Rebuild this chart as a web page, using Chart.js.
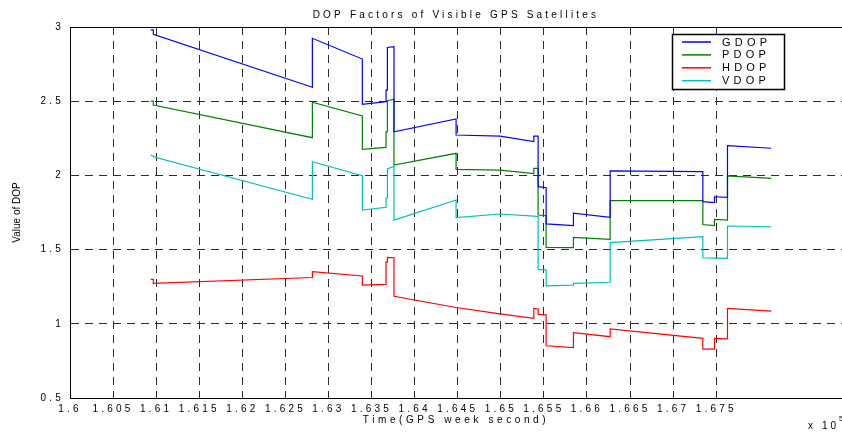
<!DOCTYPE html>
<html>
<head>
<meta charset="utf-8">
<title>DOP Factors of Visible GPS Satellites</title>
<script src="https://cdn.jsdelivr.net/npm/chart.js@4/dist/chart.umd.min.js"></script>
<style>
  html, body { margin: 0; padding: 0; background: #ffffff; }
  canvas { display: block; }
</style>
</head>
<body>
<canvas id="dop" width="842" height="432"></canvas>
<script>
// GPS week seconds at each breakpoint; repeated times mark the jumps
// where the satellite set changes.
const times = [
  160937, 160967, 160967, 162813, 162813, 163393, 163393, 163668, 163668,
  163684, 163684, 163760, 163760, 164481, 164481, 164992, 165383, 165383,
  165433, 165433, 165526, 165526, 165843, 165843, 166269, 166269, 167345,
  167345, 167480, 167480, 167631, 167631, 168140
];

const gdop = [
  2.980, 2.980, 2.951, 2.594, 2.924, 2.784, 2.479, 2.497, 2.575,
  2.575, 2.862, 2.867, 2.294, 2.380, 2.272, 2.265, 2.228, 2.265,
  2.265, 1.924, 1.917, 1.673, 1.661, 1.745, 1.718, 2.030, 2.025,
  1.823, 1.817, 1.856, 1.852, 2.200, 2.183
];

const pdop = [
  2.501, 2.501, 2.474, 2.254, 2.493, 2.400, 2.176, 2.189, 2.294,
  2.294, 2.503, 2.513, 2.070, 2.149, 2.041, 2.035, 2.012, 2.048,
  2.048, 1.733, 1.728, 1.514, 1.513, 1.583, 1.569, 1.830, 1.830,
  1.669, 1.661, 1.704, 1.699, 1.996, 1.980
];

const hdop = [
  1.300, 1.300, 1.273, 1.312, 1.351, 1.322, 1.261, 1.266, 1.416,
  1.416, 1.447, 1.445, 1.185, 1.110, 1.110, 1.067, 1.037, 1.104,
  1.100, 1.063, 1.060, 0.852, 0.839, 0.941, 0.913, 0.965, 0.902,
  0.830, 0.830, 0.902, 0.898, 1.104, 1.086
];

const vdop = [
  2.137, 2.130, 2.125, 1.839, 2.092, 1.998, 1.767, 1.785, 1.846,
  1.846, 2.043, 2.060, 1.699, 1.834, 1.715, 1.740, 1.725, 1.725,
  1.723, 1.367, 1.363, 1.255, 1.261, 1.273, 1.280, 1.547, 1.587,
  1.445, 1.443, 1.443, 1.441, 1.659, 1.654
];

const seriesNames = ['GDOP', 'PDOP', 'HDOP', 'VDOP'];
const seriesColors = ['#0000ff', '#008000', '#ff0000', '#00bfbf'];

const xTickValues = [
  160000, 160500, 161000, 161500, 162000, 162500, 163000, 163500,
  164000, 164500, 165000, 165500, 166000, 166500, 167000, 167500
];
const yTickValues = [0.5, 1, 1.5, 2, 2.5, 3];

const FONT = '"Liberation Sans", Arial, Helvetica, sans-serif';
const SPACING = '3.2px';

function toPoints(values) {
  return times.map((t, i) => ({ x: t, y: values[i] }));
}

const seriesValues = [gdop, pdop, hdop, vdop];
const datasets = seriesNames.map((name, i) => ({
  label: name,
  data: toPoints(seriesValues[i]),
  borderColor: seriesColors[i],
  backgroundColor: seriesColors[i],
  borderWidth: 1.2,
  pointRadius: 0,
  tension: 0,
  fill: false
}));

// Axis frame, in-plot key, letter spacing and the x10^5 multiplier.
const plotDecor = {
  id: 'plotDecor',
  afterLayout(chart) {
    const t = chart.titleBlock;
    const a = chart.chartArea;
    if (t) { t.left = a.left; t.right = a.right; t.width = a.right - a.left; }
  },
  beforeDraw(chart) {
    const ctx = chart.ctx;
    ctx.letterSpacing = SPACING;
    const ys = chart.scales.y;
    if (ys && !ys._plainTitle) {
      const orig = ys.drawTitle;
      ys.drawTitle = function () {
        const prev = this.ctx.letterSpacing;
        this.ctx.letterSpacing = '0px';
        orig.call(this);
        this.ctx.letterSpacing = prev;
      };
      ys._plainTitle = true;
    }
    const xs = chart.scales.x;
    if (xs && !xs._wideTitle) {
      const origX = xs.drawTitle;
      xs.drawTitle = function () {
        const prev = this.ctx.letterSpacing;
        this.ctx.letterSpacing = '3.6px';
        origX.call(this);
        this.ctx.letterSpacing = prev;
      };
      xs._wideTitle = true;
    }
  },
  afterDatasetsDraw(chart) {
    const ctx = chart.ctx;
    const a = chart.chartArea;
    ctx.save();
    // top edge of the axes box
    ctx.strokeStyle = '#000';
    ctx.lineWidth = 1;
    ctx.setLineDash([]);
    ctx.beginPath();
    ctx.moveTo(a.left, a.top + 0.5);
    ctx.lineTo(a.right, a.top + 0.5);
    ctx.stroke();

    // key box
    const bx = a.left + 602, by = a.top + 7, bw = 112, bh = 55;
    ctx.fillStyle = '#fff';
    ctx.fillRect(bx, by, bw, bh);
    ctx.lineWidth = 1.5;
    ctx.strokeRect(bx + 0.5, by + 0.5, bw, bh);
    ctx.font = '11px ' + FONT;
    ctx.letterSpacing = '4.2px';
    ctx.textBaseline = 'middle';
    ctx.textAlign = 'left';
    chart.data.datasets.forEach((ds, i) => {
      const ry = by + 8 + i * 12.9;
      ctx.strokeStyle = ds.borderColor;
      ctx.lineWidth = 1.5;
      ctx.beginPath();
      ctx.moveTo(bx + 10, ry);
      ctx.lineTo(bx + 39, ry);
      ctx.stroke();
      ctx.fillStyle = '#000';
      ctx.fillText(ds.label, bx + 50, ry + 0.5);
    });
    ctx.restore();
  },
  afterDraw(chart) {
    const ctx = chart.ctx;
    ctx.save();
    ctx.fillStyle = '#000';
    ctx.textBaseline = 'middle';
    ctx.textAlign = 'left';
    ctx.letterSpacing = '3px';
    ctx.font = '10px ' + FONT;
    ctx.fillText('x', 808, 426);
    ctx.fillText('10', 822, 426);
    ctx.font = '7px ' + FONT;
    ctx.fillText('5', 839, 419);
    ctx.restore();
  }
};

new Chart(document.getElementById('dop'), {
  type: 'line',
  data: { datasets },
  plugins: [plotDecor],
  options: {
    responsive: false,
    animation: false,
    devicePixelRatio: 1,
    layout: { padding: 0 },
    plugins: {
      legend: { display: false },
      tooltip: { enabled: false },
      title: {
        display: true,
        text: 'DOP Factors of Visible GPS Satellites',
        color: '#000',
        font: { family: FONT, size: 10, weight: 'normal', lineHeight: 1.2 },
        padding: { top: 9, bottom: 6 }
      }
    },
    scales: {
      x: {
        type: 'linear',
        min: 160000,
        max: 168960,
        afterBuildTicks: (s) => { s.ticks = xTickValues.map(v => ({ value: v })); },
        afterFit: (s) => { s.height = 34; },
        ticks: {
          autoSkip: false,
          maxRotation: 0,
          padding: 5,
          color: '#000',
          font: { family: FONT, size: 10 },
          callback: (v) => String(v / 1e5)
        },
        grid: { color: '#2a2a2a', lineWidth: 1, drawTicks: false },
        border: { display: true, color: '#000', width: 1, dash: [8, 6] },
        title: {
          display: true,
          text: 'Time(GPS week second)',
          color: '#000',
          font: { family: FONT, size: 10 },
          padding: { top: 0, bottom: 6 }
        }
      },
      y: {
        type: 'linear',
        min: 0.5,
        max: 3,
        afterBuildTicks: (s) => { s.ticks = yTickValues.map(v => ({ value: v })); },
        afterFit: (s) => { s.width = 70; },
        ticks: {
          padding: 6,
          color: '#000',
          font: { family: FONT, size: 10 },
          callback: (v) => String(v)
        },
        grid: { color: '#2a2a2a', lineWidth: 1, drawTicks: false },
        border: { display: true, color: '#000', width: 1, dash: [8, 6] },
        title: {
          display: true,
          text: 'Value of DOP',
          color: '#000',
          font: { family: FONT, size: 10 },
          padding: { top: 11, bottom: 0 }
        }
      }
    }
  }
});
</script>
</body>
</html>
